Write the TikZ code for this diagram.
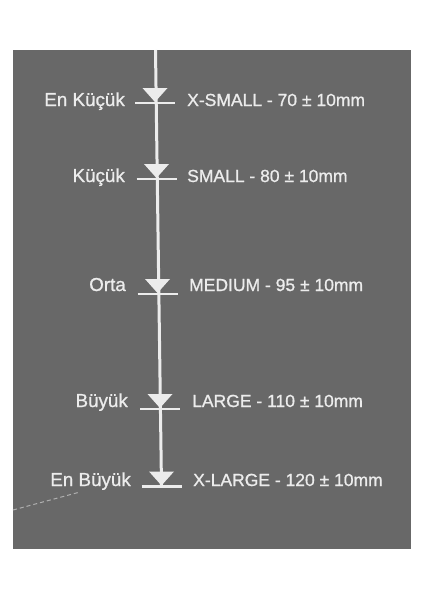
\documentclass[tikz,border=0pt]{standalone}
\usepackage{fontspec}
\setmainfont{Liberation Sans}
\newfontfamily\lblfont{Liberation Sans}[FakeBold=0.9]
\definecolor{bg}{RGB}{104,104,104}
\definecolor{ink}{RGB}{236,236,236}
\definecolor{crease}{RGB}{175,175,175}
\begin{document}
\begin{tikzpicture}[x=1pt,y=-1pt,
  leftlbl/.style={text=ink, font=\lblfont\fontsize{18.8}{18.8}\selectfont, inner sep=0pt, anchor=base east},
  rightlbl/.style={text=ink, font=\lblfont\fontsize{17.5}{17.5}\selectfont, inner sep=0pt, anchor=base west},
  axis/.style={draw=ink, line width=3pt},
  tri/.style={fill=ink},
  barline/.style={draw=ink, line width=2.6pt}]
\useasboundingbox (0,0) rectangle (424,600);
\fill[white] (0,0) rectangle (424,600);
\fill[bg] (13,50) rectangle (411,549);
% crease artifact
\draw[crease, line width=1pt, dash pattern=on 4pt off 3pt] (13,510) -- (80,492);
% marker positions: name / x / bar y
\coordinate (top) at (155.5,50);
\foreach \n/\x/\b in {1/155/103, 2/156.5/179, 3/157.5/294, 4/160/409, 5/161.5/486.5}{
  \coordinate (m\n) at (\x,\b);
}
\draw[axis] (top) -- (m5);
\foreach \n/\x/\b in {1/155/103, 2/156.5/179, 3/157.5/294, 4/160/409, 5/161.5/486.5}{
  \fill[tri] (\x-12.5,\b-15) -- (\x+12.5,\b-15) -- (\x,\b-1) -- cycle;
  \draw[barline] (\x-20,\b) -- (\x+20,\b);
}
\node[leftlbl] (l1) at (125,106) {En Küçük};
\node[rightlbl] (r1) at (187,106) {X-SMALL - 70 ± 10mm};
\node[leftlbl] (l2) at (125,182) {Küçük};
\node[rightlbl] (r2) at (187,182) {SMALL - 80 ± 10mm};
\node[leftlbl] (l3) at (126,291) {Orta};
\node[rightlbl] (r3) at (189,291) {MEDIUM - 95 ± 10mm};
\node[leftlbl] (l4) at (128,407) {Büyük};
\node[rightlbl] (r4) at (192,407) {LARGE - 110 ± 10mm};
\node[leftlbl] (l5) at (131,486) {En Büyük};
\node[rightlbl] (r5) at (193,486) {X-LARGE - 120 ± 10mm};
\end{tikzpicture}
\end{document}
